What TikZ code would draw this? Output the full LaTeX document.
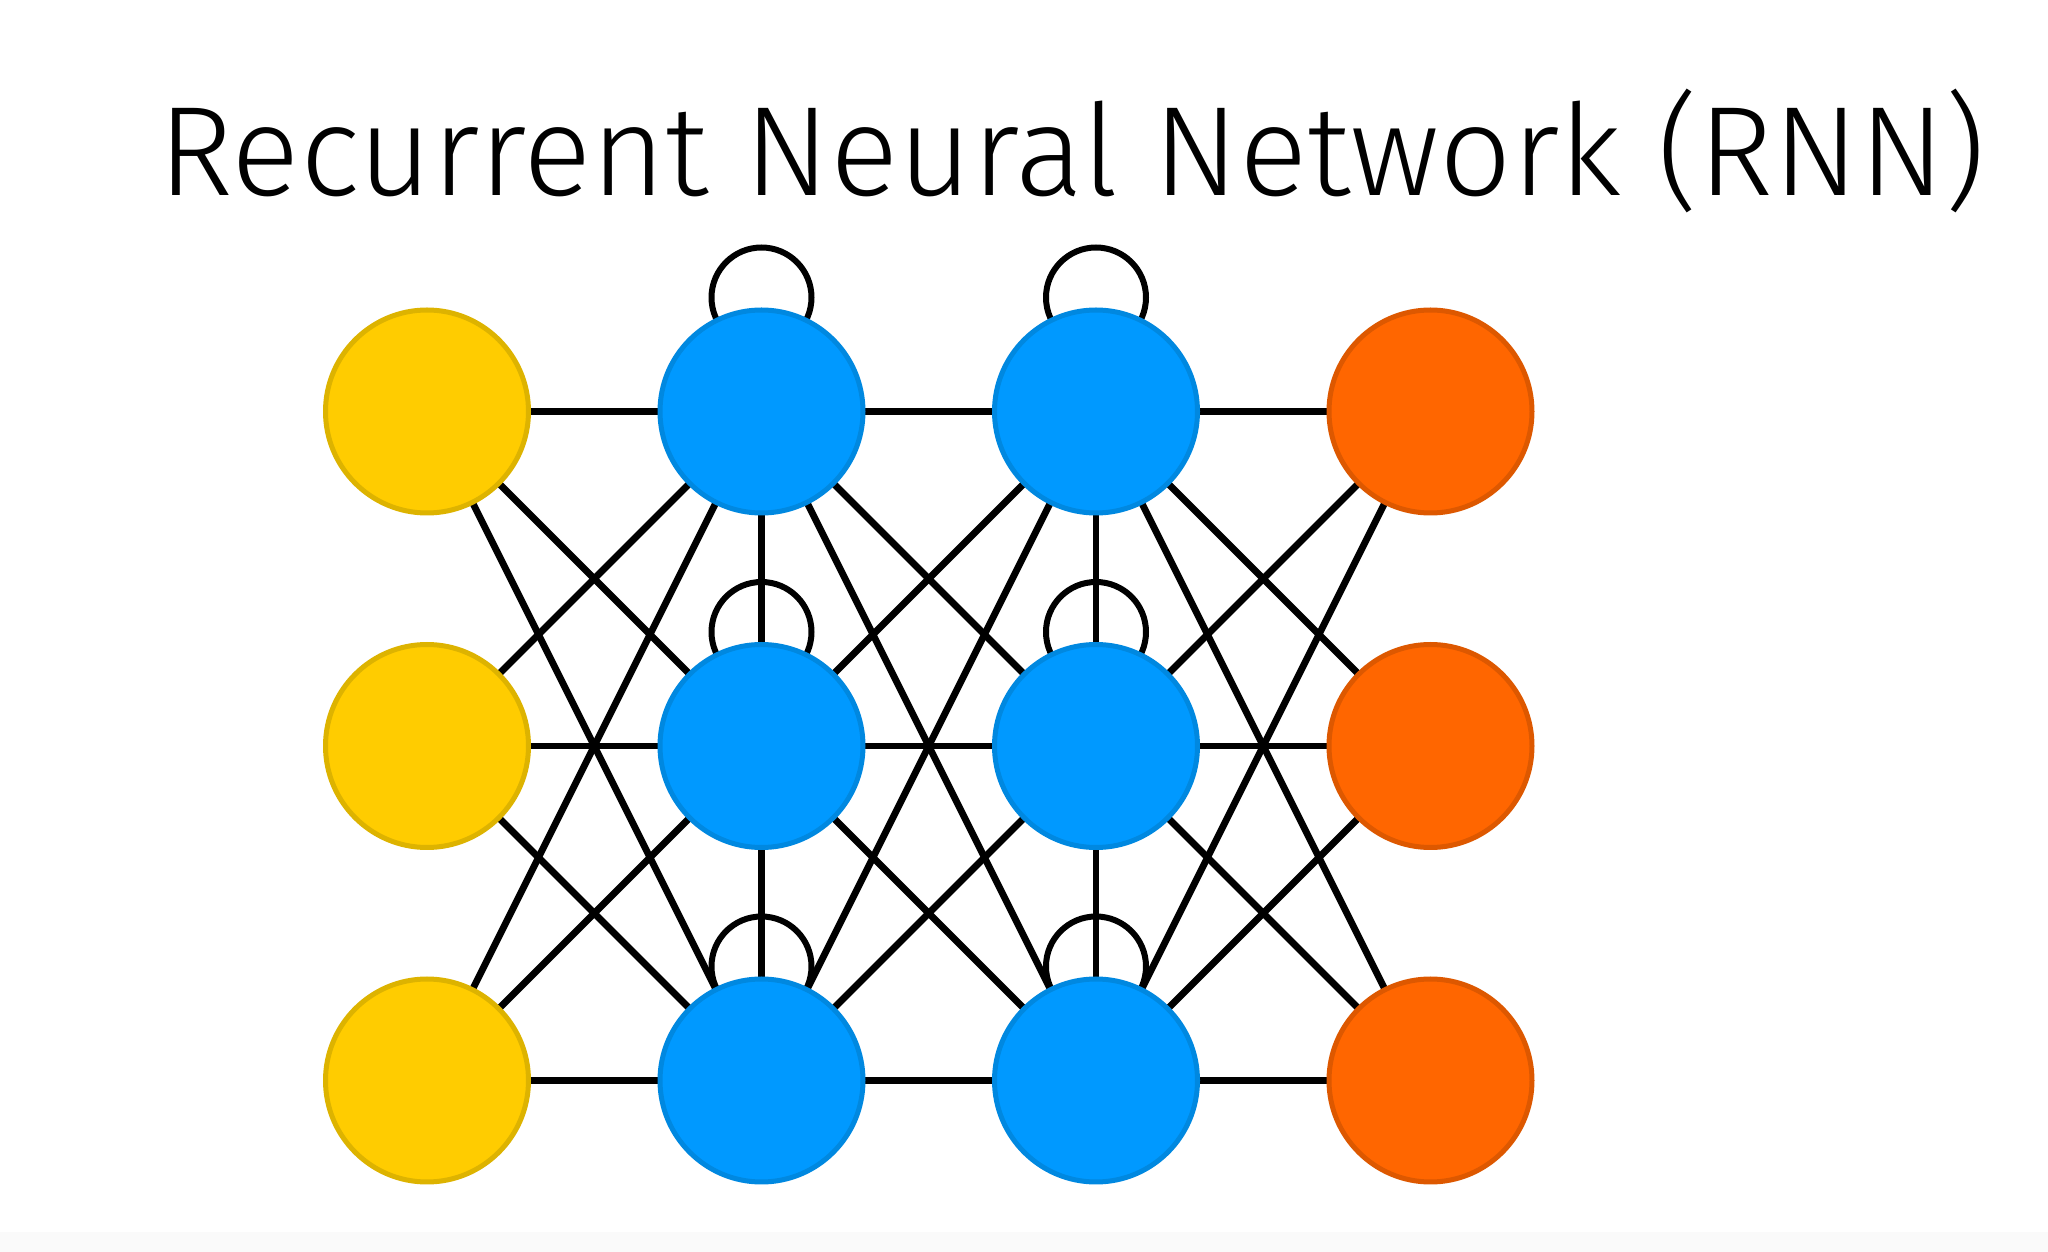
\documentclass[tikz,border=0pt]{standalone}
\usepackage{fontspec}
\newfontfamily\titlefont{Fira Sans Light}
\usetikzlibrary{positioning, backgrounds}

\definecolor{inyellow}{HTML}{FFCC00}
\definecolor{inyellowedge}{HTML}{DDB300}
\definecolor{hidblue}{HTML}{0099FF}
\definecolor{hidblueedge}{HTML}{0088E0}
\definecolor{outorange}{HTML}{FF6600}
\definecolor{outorangeedge}{HTML}{DD5800}
\definecolor{stripgray}{HTML}{FAFAFA}

\begin{document}
\begin{tikzpicture}[
    node distance=1.315cm and 1.315cm,
    neuron/.style={circle, draw, line width=0.05cm, minimum size=2.03cm, inner sep=0pt, outer sep=0pt},
    input/.style={neuron, fill=inyellow, draw=inyellowedge},
    hidden/.style={neuron, fill=hidblue, draw=hidblueedge},
    output/.style={neuron, fill=outorange, draw=outorangeedge},
    link/.style={line width=0.068cm, black},
    title/.style={font=\titlefont\fontsize{36.2}{44}\selectfont, inner sep=0pt, anchor=base west}
]

    % Canvas and bottom strip
    \useasboundingbox (0,0) rectangle (20.48,12.52);
    \fill[stripgray] (0,0) rectangle (20.48,0.2);

    % Title
    \node[title] (heading) at (1.58,10.56) {Recurrent Neural Network (RNN)};

    % Input layer
    \node[input] (in_1) at (4.27,8.405) {};
    \node[input, below=of in_1] (in_2) {};
    \node[input, below=of in_2] (in_3) {};

    % First hidden layer
    \node[hidden, right=of in_1] (hid1_1) {};
    \node[hidden, below=of hid1_1] (hid1_2) {};
    \node[hidden, below=of hid1_2] (hid1_3) {};

    % Second hidden layer
    \node[hidden, right=of hid1_1] (hid2_1) {};
    \node[hidden, below=of hid2_1] (hid2_2) {};
    \node[hidden, below=of hid2_2] (hid2_3) {};

    % Output layer
    \node[output, right=of hid2_1] (out_1) {};
    \node[output, below=of out_1] (out_2) {};
    \node[output, below=of out_2] (out_3) {};

    % Connections behind the neurons
    \begin{scope}[on background layer]
        % every neuron to every neuron of the next layer
        \foreach \a/\b in {in/hid1, hid1/hid2, hid2/out}
            \foreach \i in {1,2,3}
                \foreach \j in {1,2,3}
                    \draw[link] (\a_\i) -- (\b_\j);

        % links inside the hidden columns
        \foreach \h in {hid1, hid2} {
            \draw[link] (\h_1) -- (\h_2);
            \draw[link] (\h_2) -- (\h_3);
        }

        % recurrent self loops
        \foreach \h in {hid1, hid2}
            \foreach \i in {1,2,3}
                \draw[link, line width=0.06cm] ([yshift=1.14cm]\h_\i.center) circle (0.5cm);
    \end{scope}

\end{tikzpicture}
\end{document}
